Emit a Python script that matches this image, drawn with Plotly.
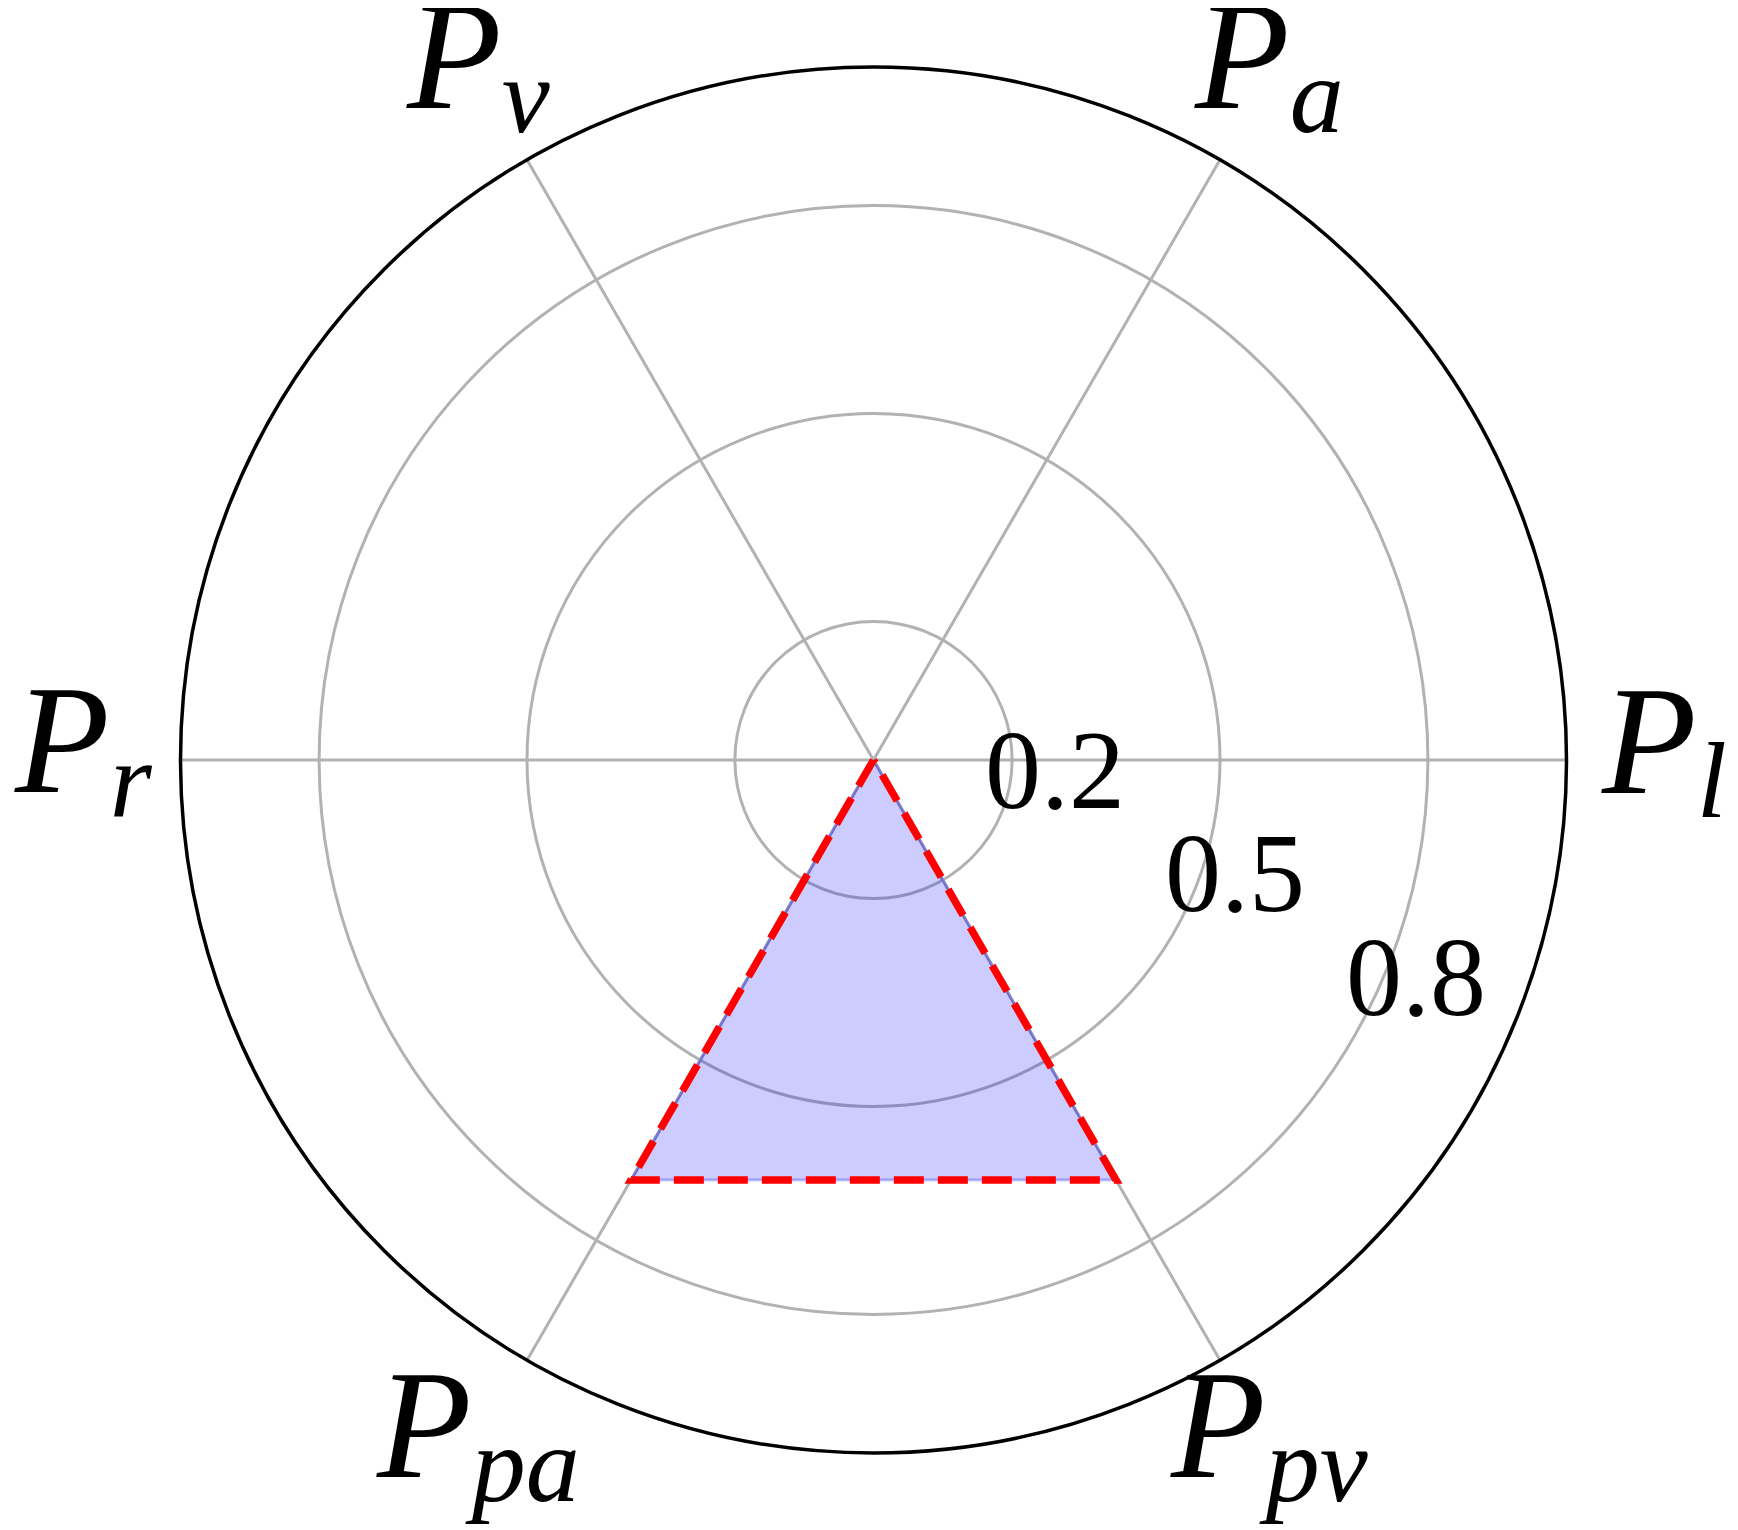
import math
import plotly.graph_objects as go

# Axis categories (angular) and the value of each one
categories = ['P_l', 'P_a', 'P_v', 'P_r', 'P_pa', 'P_pv']
cat_main = ['P', 'P', 'P', 'P', 'P', 'P']
cat_sub = ['l', 'a', 'v', 'r', 'pa', 'pv']
values = [0, 0, 0, 0, 0.7, 0.7]
radial_ticks = [0.2, 0.5, 0.8]

W, H = 1738, 1530
# centre and radius of the polar circle in figure pixels
# (page body adds an 8px margin, so these are shifted by -8)
cx, cy, R = 865.5, 752, 693
LABEL_R = 1.14
LABEL_LIFT = 13       # labels sit a little higher than their anchor point
TICK_ANGLE = -29.8    # direction along which the radial tick labels sit
TICK_OFF = (61, -59)  # pixel offset of the tick labels from that line

FONT = 'Liberation Serif'
GRID = 'rgb(178,178,178)'

# close the polygon
theta_closed = categories + categories[:1]
r_closed = values + values[:1]

fig = go.Figure()

# Filled area
fig.add_trace(go.Scatterpolar(
    r=r_closed,
    theta=theta_closed,
    mode='lines',
    fill='toself',
    fillcolor='rgba(0,0,255,0.2)',
    line=dict(color='rgba(0,0,255,0.25)', width=3),
    hoverinfo='skip',
    showlegend=False
))

# Red dashed outline
fig.add_trace(go.Scatterpolar(
    r=r_closed,
    theta=theta_closed,
    mode='lines',
    line=dict(color='rgb(255,0,0)', width=7.5, dash='30px,14px'),
    hoverinfo='skip',
    showlegend=False
))

annotations = []

# Category labels just outside the outer circle
step = 360 / len(categories)
for i, (m, s) in enumerate(zip(cat_main, cat_sub)):
    a = math.radians(i * step)
    px = cx + LABEL_R * R * math.cos(a)
    py = cy - LABEL_R * R * math.sin(a)
    text = (f'<i>{m}</i><span style="font-size:108px;baseline-shift:-24px">'
            f'<i>{s}</i></span>')
    annotations.append(dict(
        x=px / W, y=1 - py / H,
        xref='paper', yref='paper',
        xanchor='center', yanchor='middle',
        yshift=LABEL_LIFT,
        text=text, showarrow=False,
        font=dict(family=FONT, size=155, color='black'),
    ))

# Radial tick labels
a = math.radians(TICK_ANGLE)
for v in radial_ticks:
    px = cx + v * R * math.cos(a) + TICK_OFF[0]
    py = cy - v * R * math.sin(a) + TICK_OFF[1]
    annotations.append(dict(
        x=px / W, y=1 - py / H,
        xref='paper', yref='paper',
        xanchor='center', yanchor='middle',
        text=f'{v:.1f}', showarrow=False,
        font=dict(family=FONT, size=112, color='black'),
    ))

fig.update_layout(
    width=W,
    height=H,
    margin=dict(l=0, r=0, t=0, b=0),
    paper_bgcolor='white',
    showlegend=False,
    annotations=annotations,
    polar=dict(
        domain=dict(
            x=[(cx - R) / W, (cx + R) / W],
            y=[(H - cy - R) / H, (H - cy + R) / H]
        ),
        bgcolor='white',
        radialaxis=dict(
            range=[0, 1],
            tickvals=radial_ticks,
            showticklabels=False,
            showline=False,
            ticks='',
            showgrid=True,
            gridcolor=GRID,
            gridwidth=2.5,
        ),
        angularaxis=dict(
            type='category',
            categoryarray=categories,
            direction='counterclockwise',
            rotation=0,
            showticklabels=False,
            ticks='',
            showline=True,
            linecolor='black',
            linewidth=3.5,
            showgrid=True,
            gridcolor=GRID,
            gridwidth=2.5,
        ),
    ),
)

fig.write_html("out.html")
